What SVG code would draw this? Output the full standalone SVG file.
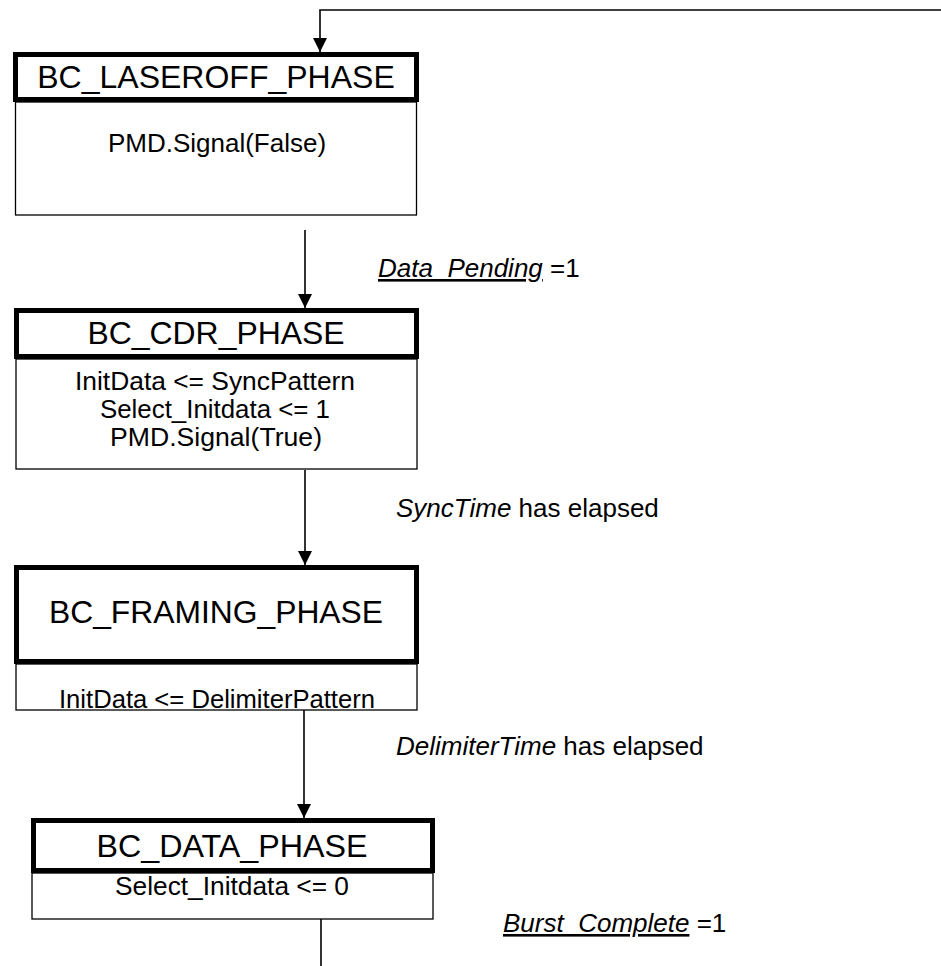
<svg xmlns="http://www.w3.org/2000/svg" width="941" height="966" viewBox="0 0 941 966">
<style>
.hdr{fill:#fff;stroke:#000;stroke-width:5}
.body{fill:#fff;stroke:#000;stroke-width:1.3}
.t{font-family:"Liberation Sans",Arial,sans-serif;fill:#000}
.ht{font-size:32px;text-anchor:middle}
.bt{font-size:26px;text-anchor:middle}
.lbl{font-size:26px}
.conn{fill:none;stroke:#000;stroke-width:1.6}
</style>
<defs>
<marker id="arr" markerUnits="userSpaceOnUse" markerWidth="16" markerHeight="16" viewBox="0 0 16 16" refX="14" refY="8" orient="auto">
<path d="M0,1 L14,8 L0,15 Z" fill="#000"/>
</marker>
</defs>
<g id="connectors">
<path class="conn" d="M941,10 H320 V52" marker-end="url(#arr)"/>
<path class="conn" d="M305,230 V308" marker-end="url(#arr)"/>
<path class="conn" d="M305,470 V565" marker-end="url(#arr)"/>
<path class="conn" d="M304,710 V818" marker-end="url(#arr)"/>
<path class="conn" d="M321,919 V966"/>
</g>
<g id="labels">
<text class="t lbl" x="378" y="277"><tspan font-style="italic" text-decoration="underline">Data_Pending</tspan> =1</text>
<text class="t lbl" x="396" y="517"><tspan font-style="italic">SyncTime</tspan> has elapsed</text>
<text class="t lbl" x="396" y="755"><tspan font-style="italic">DelimiterTime</tspan> has elapsed</text>
<text class="t lbl" x="503" y="932"><tspan font-style="italic" text-decoration="underline">Burst_Complete</tspan> =1</text>
</g>
<g id="laseroff">
<rect class="body" x="15.5" y="102" width="401" height="113"/>
<rect class="hdr" x="15.5" y="54.5" width="401" height="45"/>
<text class="t ht" x="216" y="88">BC_LASEROFF_PHASE</text>
<text class="t bt" x="217" y="152">PMD.Signal(False)</text>
</g>
<g id="cdr">
<rect class="body" x="16" y="359" width="401" height="110"/>
<rect class="hdr" x="16.5" y="310.5" width="400" height="46"/>
<text class="t ht" x="216" y="344" font-size="34" textLength="257" lengthAdjust="spacingAndGlyphs">BC_CDR_PHASE</text>
<text class="t bt" x="215" y="390" font-size="27" textLength="280" lengthAdjust="spacingAndGlyphs">InitData &lt;= SyncPattern</text>
<text class="t bt" x="215" y="418" font-size="27" textLength="230" lengthAdjust="spacingAndGlyphs">Select_Initdata &lt;= 1</text>
<text class="t bt" x="216" y="446" font-size="27" textLength="212" lengthAdjust="spacingAndGlyphs">PMD.Signal(True)</text>
</g>
<g id="framing">
<rect class="body" x="16" y="664" width="401" height="46"/>
<rect class="hdr" x="16.5" y="567.5" width="400" height="94"/>
<text class="t ht" x="216" y="623" font-size="34" textLength="334" lengthAdjust="spacingAndGlyphs">BC_FRAMING_PHASE</text>
<text class="t bt" x="217" y="708" textLength="316" lengthAdjust="spacingAndGlyphs">InitData &lt;= DelimiterPattern</text>
</g>
<g id="data">
<rect class="body" x="32" y="873" width="401" height="46"/>
<rect class="hdr" x="33.5" y="820.5" width="399" height="50"/>
<text class="t ht" x="232" y="857" font-size="33" textLength="271" lengthAdjust="spacingAndGlyphs">BC_DATA_PHASE</text>
<text class="t bt" x="232" y="895" textLength="234" lengthAdjust="spacingAndGlyphs">Select_Initdata &lt;= 0</text>
</g>
</svg>
